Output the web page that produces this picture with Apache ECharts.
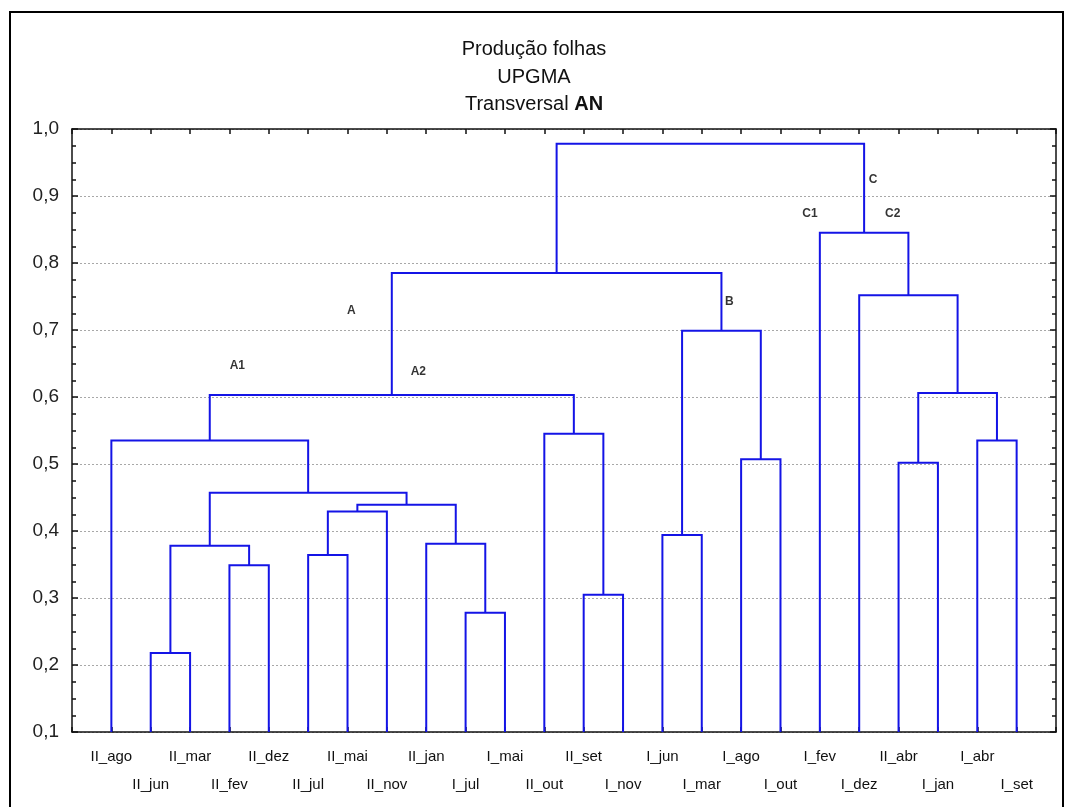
<!DOCTYPE html>
<html>
<head>
<meta charset="utf-8">
<script src="https://cdn.jsdelivr.net/npm/echarts@6/dist/echarts.min.js"></script>
<style>
html,body{margin:0;padding:0;background:#fff;}
#main{width:1068px;height:807px;}
</style>
</head>
<body>
<div id="main"></div>
<script>
// Leaves, in dendrogram order
var leafNames = ['II_ago','II_jun','II_mar','II_fev','II_dez','II_jul','II_mai','II_nov','II_jan','I_jul','I_mai','II_out',
                 'II_set','I_nov','I_jun','I_mar','I_ago','I_out','I_fev','I_dez','II_abr','I_jan','I_abr','I_set'];
// Merges: child indices (<24 leaf, otherwise 24 + merge index) and linkage distance
var mergeLeft   = [1, 3, 24, 5, 27, 9, 8, 28, 26, 0, 12, 11, 33, 14, 16, 37, 36, 20, 22, 41, 19, 18, 40];
var mergeRight  = [2, 4, 25, 6, 7, 10, 29, 30, 31, 32, 13, 34, 35, 15, 17, 38, 39, 21, 23, 42, 43, 44, 45];
var mergeHeight = [0.218, 0.349, 0.378, 0.364, 0.429, 0.278, 0.381, 0.439, 0.457, 0.535, 0.305, 0.545, 0.603,
                   0.394, 0.507, 0.699, 0.785, 0.502, 0.535, 0.606, 0.752, 0.845, 0.978];
// Cluster annotations
var clusterNames = ['A', 'A1', 'A2', 'B', 'C', 'C1', 'C2'];
var clusterX     = [6.1, 3.2, 7.8, 15.7, 19.35, 17.75, 19.85];
var clusterY     = [0.729, 0.647, 0.638, 0.743, 0.925, 0.874, 0.874];
// Y tick range
var yMin = 0.1, yMax = 1.0, yStep = 0.1;

var nLeaf = leafNames.length;
var nodeX = [], nodeH = [];
for (var i = 0; i < nLeaf; i++) { nodeX.push(i); nodeH.push(yMin); }
var links = [];
for (var k = 0; k < mergeHeight.length; k++) {
  var a = mergeLeft[k], b = mergeRight[k], h = mergeHeight[k];
  links.push({coords: [[nodeX[a], nodeH[a]], [nodeX[a], h], [nodeX[b], h], [nodeX[b], nodeH[b]]]});
  nodeX.push((nodeX[a] + nodeX[b]) / 2);
  nodeH.push(h);
}
var clusterData = clusterNames.map(function (n, i) { return {value: [clusterX[i], clusterY[i]], name: n}; });

var FONT = 'Liberation Sans';
var chart = echarts.init(document.getElementById('main'), null, {renderer: 'canvas'});
var xCommon = {
  type: 'value', min: -1, max: nLeaf, interval: 1,
  axisLine: {show: true, onZero: false, lineStyle: {color: '#111', width: 1.5}},
  axisTick: {show: true, inside: true, length: 5, lineStyle: {color: '#111', width: 1.5}},
  splitLine: {show: false}
};
var yCommon = {
  type: 'value', min: yMin, max: yMax, interval: yStep,
  axisLine: {show: true, onZero: false, lineStyle: {color: '#111', width: 1.5}},
  axisTick: {show: true, inside: true, length: 6, lineStyle: {color: '#111', width: 1.5}},
  minorTick: {show: true, splitNumber: 4, length: 4, lineStyle: {color: '#111', width: 1.5}}
};
chart.setOption({
  animation: false,
  backgroundColor: '#fff',
  title: {
    text: 'Produção folhas\nUPGMA\nTransversal {b|AN}',
    left: 'center', top: 31,
    textStyle: {
      fontFamily: FONT, fontSize: 20, fontWeight: 'normal', color: '#111', lineHeight: 27.5,
      rich: {b: {fontFamily: FONT, fontSize: 20, fontWeight: 'bold', color: '#111', lineHeight: 27.5}}
    }
  },
  graphic: [{
    type: 'rect', silent: true,
    shape: {x: 10, y: 12, width: 1053, height: 810},
    style: {fill: 'none', stroke: '#000', lineWidth: 2}
  }],
  grid: {left: 72, right: 12, top: 129, bottom: 75, containLabel: false},
  xAxis: [
    Object.assign({}, xCommon, {
      position: 'bottom',
      axisLabel: {
        show: true, margin: 11, fontFamily: FONT, fontSize: 15, color: '#111', lineHeight: 28,
        formatter: function (v) {
          var i = Math.round(v);
          if (Math.abs(v - i) > 1e-6 || i < 0 || i >= nLeaf) return '';
          return (i % 2 === 1 ? '\n' : '') + leafNames[i];
        }
      }
    }),
    Object.assign({}, xCommon, {position: 'top', axisLabel: {show: false}})
  ],
  yAxis: [
    Object.assign({}, yCommon, {
      position: 'left',
      axisLabel: {
        show: true, margin: 13, fontFamily: FONT, fontSize: 19, color: '#222',
        formatter: function (v) { return v.toFixed(1).replace('.', ','); }
      },
      splitLine: {show: true, lineStyle: {color: '#a8a8a8', type: [2, 2], width: 1}}
    }),
    Object.assign({}, yCommon, {position: 'right', axisLabel: {show: false}, splitLine: {show: false}})
  ],
  series: [
    {
      type: 'lines', coordinateSystem: 'cartesian2d', polyline: true, silent: true,
      xAxisIndex: 0, yAxisIndex: 0,
      lineStyle: {color: '#1414e6', width: 2, opacity: 1},
      data: links, z: 3
    },
    {
      type: 'scatter', xAxisIndex: 0, yAxisIndex: 0, symbolSize: 0, silent: true,
      data: clusterData,
      label: {
        show: true, position: 'inside', formatter: '{b}',
        fontFamily: FONT, fontSize: 12, fontWeight: 'bold', color: '#000'
      },
      z: 4
    }
  ]
});
</script>
</body>
</html>
